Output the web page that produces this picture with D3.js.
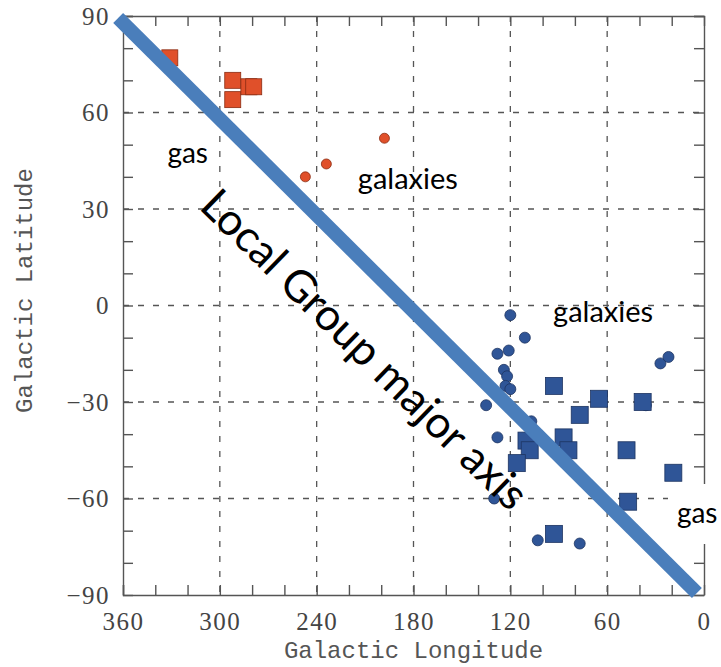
<!DOCTYPE html>
<html>
<head>
<meta charset="utf-8">
<script src="https://cdn.jsdelivr.net/npm/d3@7"></script>
<style>
	body { margin: 0; background: #fff; }
	svg { display: block; }
	.axis path, .axis line { stroke: #555; stroke-width: 1.4; }
	.axis text { font-family: "Liberation Serif", serif; font-size: 25px; fill: #444; letter-spacing: 1.5px; }
	.grid line { stroke: #555; stroke-width: 1.3; stroke-dasharray: 6 9; }
	.title { font-family: "Liberation Mono", monospace; font-size: 24px; fill: #555; }
	.note { font-family: Lato, "Open Sans", sans-serif; fill: #000; }
</style>
</head>
<body>
<svg id="chart" width="721" height="667"></svg>
<script>
// gas clouds, northern group (galactic longitude, latitude)
const gasNorthLon = [331, 292, 292, 282, 279];
const gasNorthLat = [77, 70, 64, 68, 68];

// galaxies, northern group
const galNorthLon = [198, 234, 247];
const galNorthLat = [52, 44, 40];

// galaxies, southern group
const galSouthLon = [120, 111, 128, 121, 124, 122, 123, 120, 135, 107, 128, 130, 103, 77, 27, 22, 36];
const galSouthLat = [-3, -10, -15, -14, -20, -22, -25, -26, -31, -36, -41, -60, -73, -74, -18, -16, -31];

// gas clouds, southern group
const gasSouthLon = [93, 65, 38, 77, 87, 110, 84, 108, 116, 48, 19, 47, 93];
const gasSouthLat = [-25, -29, -30, -34, -41, -42, -45, -45, -49, -45, -52, -61, -71];

// Local Group major axis, end points
const axisLon = [363, 4.4];
const axisLat = [89.4, -89.4];

// axis ticks
const lonTicks = [360, 300, 240, 180, 120, 60, 0];
const latTicks = [90, 60, 30, 0, -30, -60, -90];

// annotations: text, longitude, latitude of baseline start
const notes = [
	{ text: "gas", lon: 332.5, lat: 44.3, size: 28 },
	{ text: "galaxies", lon: 214.5, lat: 36.2, size: 29 },
	{ text: "galaxies", lon: 93.5, lat: -5.2, size: 29 },
	{ text: "gas", lon: 16.8, lat: -67.6, size: 28 }
];
const majorText = { text: "Local Group major axis", lon: 313.5, lat: 30.3, size: 44, angle: 44.3 };

const svg = d3.select("#chart");

const x = d3.scaleLinear().domain([360, 0]).range([123, 704]);
const y = d3.scaleLinear().domain([90, -90]).range([16, 595]);

const fmt = d => d3.format("d")(d);

// grid
const grid = svg.append("g").attr("class", "grid");
grid.selectAll(".gx")
	.data(lonTicks.filter(d => d % 360 !== 0))
	.enter().append("line")
	.attr("x1", d => x(d)).attr("x2", d => x(d))
	.attr("y1", y(90)).attr("y2", y(-90));
grid.selectAll(".gy")
	.data(latTicks.filter(d => Math.abs(d) !== 90))
	.enter().append("line")
	.attr("y1", d => y(d)).attr("y2", d => y(d))
	.attr("x1", x(360)).attr("x2", x(0));

// axes, ticks pointing inward on all four sides
const minorLon = d3.range(0, 361, 20);
const minorLat = d3.range(-90, 91, 10);

svg.append("g").attr("class", "axis")
	.attr("transform", `translate(0,${y(-90)})`)
	.call(d3.axisBottom(x).tickValues(minorLon).tickSize(-10).tickPadding(17)
		.tickFormat(d => lonTicks.includes(d) ? fmt(d) : ""));
svg.append("g").attr("class", "axis")
	.attr("transform", `translate(0,${y(90)})`)
	.call(d3.axisTop(x).tickValues(minorLon).tickSize(-10).tickFormat(""));
svg.append("g").attr("class", "axis")
	.attr("transform", `translate(${x(360)},0)`)
	.call(d3.axisLeft(y).tickValues(minorLat).tickSize(-10).tickPadding(13)
		.tickFormat(d => latTicks.includes(d) ? fmt(d) : ""));
svg.append("g").attr("class", "axis")
	.attr("transform", `translate(${x(0)},0)`)
	.call(d3.axisRight(y).tickValues(minorLat).tickSize(-10).tickFormat(""));

svg.selectAll(".axis .domain").attr("d", function() {
	return d3.select(this).attr("d").replace(/V-?10|H-?10/g, "");
});

// axis titles
svg.append("text").attr("class", "title")
	.attr("x", (x(360) + x(0)) / 2).attr("y", 658)
	.attr("text-anchor", "middle")
	.text("Galactic Longitude");
svg.append("text").attr("class", "title")
	.attr("transform", `translate(32,${(y(90) + y(-90)) / 2 - 15}) rotate(-90)`)
	.attr("text-anchor", "middle")
	.text("Galactic Latitude");

// points
const zip = (a, b) => a.map((v, i) => [v, b[i]]);

function squares(data, size, fill, stroke) {
	svg.append("g").selectAll("rect")
		.data(data).enter().append("rect")
		.attr("x", d => x(d[0]) - size / 2)
		.attr("y", d => y(d[1]) - size / 2)
		.attr("width", size).attr("height", size)
		.attr("fill", fill).attr("stroke", stroke).attr("stroke-width", 0.8);
}
function circles(data, r, fill, stroke) {
	svg.append("g").selectAll("circle")
		.data(data).enter().append("circle")
		.attr("cx", d => x(d[0])).attr("cy", d => y(d[1]))
		.attr("r", r)
		.attr("fill", fill).attr("stroke", stroke).attr("stroke-width", 0.8);
}

const red = "#e0502a", redEdge = "#8a2c12";
const blue = "#2f5597", blueEdge = "#1d3461";

squares(zip(gasNorthLon, gasNorthLat), 16, red, redEdge);
circles(zip(galNorthLon, galNorthLat), 5, red, redEdge);
circles(zip(galSouthLon, galSouthLat), 5.5, blue, blueEdge);
squares(zip(gasSouthLon, gasSouthLat), 17, blue, blueEdge);

// major axis line
svg.append("line")
	.attr("x1", x(axisLon[0])).attr("y1", y(axisLat[0]))
	.attr("x2", x(axisLon[1])).attr("y2", y(axisLat[1]))
	.attr("stroke", "#4a7ebb").attr("stroke-width", 14);

// white box behind the lower "gas" label hides the frame
svg.append("rect")
	.attr("x", 668).attr("y", 484).attr("width", 53).attr("height", 60)
	.attr("fill", "#fff");

svg.selectAll(".note")
	.data(notes).enter().append("text")
	.attr("class", "note")
	.attr("x", d => x(d.lon)).attr("y", d => y(d.lat))
	.attr("font-size", d => d.size)
	.text(d => d.text);

svg.append("text").attr("class", "note")
	.attr("transform", `translate(${x(majorText.lon)},${y(majorText.lat)}) rotate(${majorText.angle})`)
	.attr("font-size", majorText.size)
	.text(majorText.text);
</script>
</body>
</html>
